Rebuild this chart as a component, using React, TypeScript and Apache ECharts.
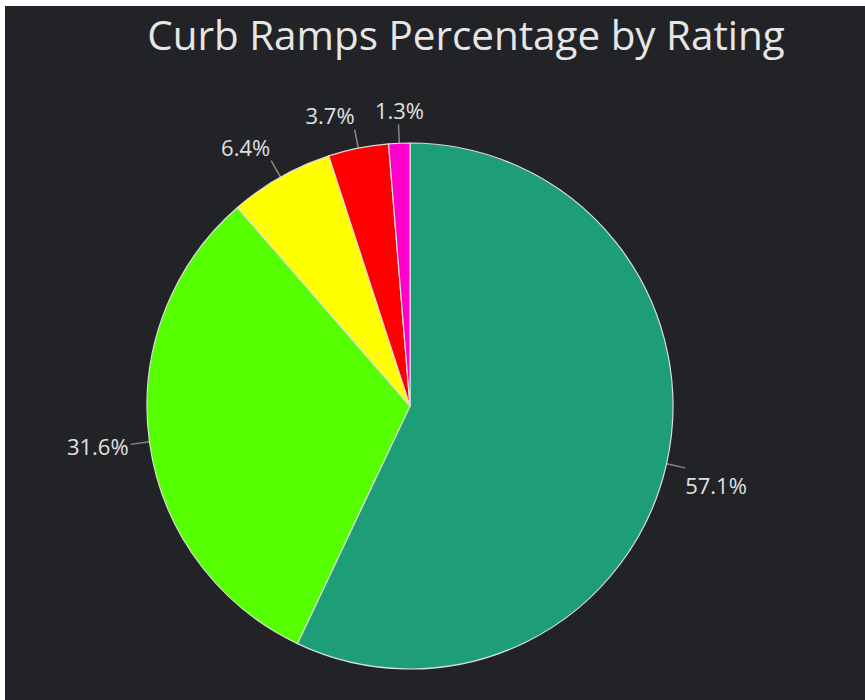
import React, { useEffect, useRef } from "react";
import * as echarts from "echarts";

const titleText = "Curb Ramps Percentage by Rating";
const categories = ["Rating 1", "Rating 2", "Rating 3", "Rating 4", "Rating 5"];
const values = [57.1, 31.6, 6.4, 3.7, 1.3];
const colors = ["#1d9e76", "#55ff00", "#ffff00", "#ff0000", "#ff00cc"];

// label placement styles (relative to end of radial leader line)
const labelPlacement = [
  { align: "left", dx: 0, dy: 17 },
  { align: "right", dx: -2, dy: 2 },
  { align: "right", dx: -1, dy: -14 },
  { align: "right", dx: 0, dy: -14 },
  { align: "center", dx: 1, dy: -14 },
];

const CX = 405;
const CY = 400;
const R = 263;
const LEADER = 19;

export default function App() {
  const ref = useRef<HTMLDivElement>(null);
  useEffect(() => {
    if (!ref.current) return;
    const chart = echarts.init(ref.current, undefined, { renderer: "svg" });
    const total = values.reduce((a, b) => a + b, 0);
    const mids: number[] = [];
    let cum = 0;
    values.forEach((v) => {
      mids.push(cum + v / 2);
      cum += v;
    });
    chart.setOption({
      animation: false,
      backgroundColor: "#222327",
      title: {
        text: titleText,
        left: 456,
        top: 3,
        textAlign: "center",
        textStyle: {
          color: "#e6e6e6",
          fontSize: 40.4,
          fontWeight: "normal",
          fontFamily: "Open Sans",
        },
      },
      series: [
        {
          type: "pie",
          center: [CX, CY],
          radius: R,
          startAngle: 90,
          clockwise: true,
          avoidLabelOverlap: false,
          data: categories.map((c, i) => ({
            name: c,
            value: values[i],
            itemStyle: { color: colors[i] },
          })),
          itemStyle: { borderColor: "#dcdcdc", borderWidth: 1.2 },
          label: {
            show: true,
            formatter: (p: any) => p.value.toFixed(1) + "%",
            color: "#e0e0e0",
            fontSize: 22,
            fontFamily: "Open Sans",
          },
          labelLine: {
            show: true,
            length: LEADER,
            length2: 0,
            lineStyle: { color: "#888", width: 1.5 },
          },
          labelLayout: (params: any) => {
            const i = params.dataIndex;
            const theta = ((90 - (360 * mids[i]) / total) * Math.PI) / 180;
            const ux = Math.cos(theta);
            const uy = -Math.sin(theta);
            const p0 = [CX + R * ux, CY + R * uy];
            const p1 = [p0[0] + LEADER * ux, p0[1] + LEADER * uy];
            const pl = labelPlacement[i];
            return {
              x: p1[0] + pl.dx,
              y: p1[1] + pl.dy,
              align: pl.align,
              verticalAlign: "middle",
              labelLinePoints: [p0, p1, p1],
            };
          },
          emphasis: { disabled: true },
        },
      ],
    });
    return () => chart.dispose();
  }, []);
  return (
    <div style={{ position: "fixed", left: 0, top: 0, width: 865, height: 700, background: "#fff" }}>
      <div ref={ref} style={{ position: "absolute", left: 5, top: 6, width: 860, height: 694 }} />
    </div>
  );
}
